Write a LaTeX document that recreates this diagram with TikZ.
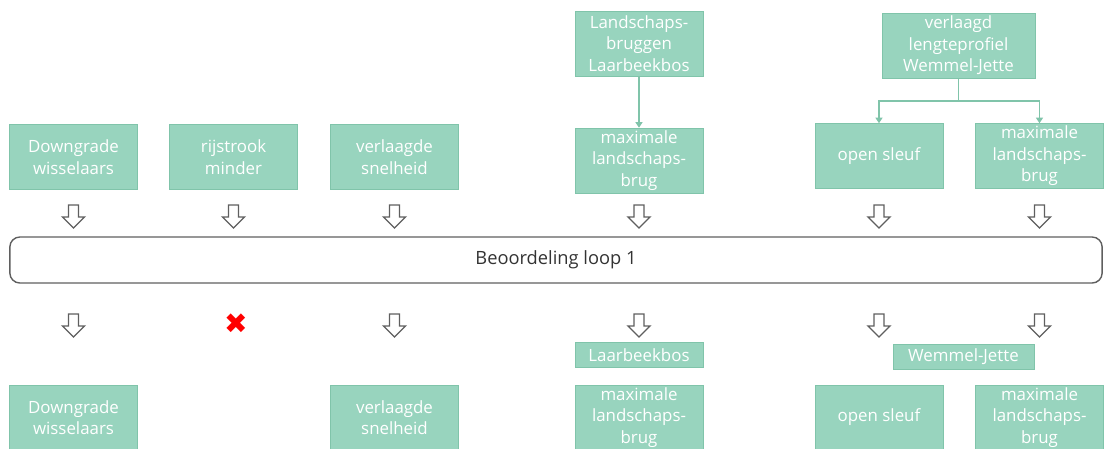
\documentclass[tikz,border=0pt]{standalone}
\usepackage{fontspec}
\setmainfont{Open Sans}
\newfontfamily\symfont{DejaVu Sans}
\usepackage{tikz}
\usetikzlibrary{positioning,calc,arrows.meta}
\definecolor{mint}{RGB}{152,212,190}
\definecolor{mintline}{RGB}{128,196,170}
\definecolor{outline}{RGB}{95,95,95}

\begin{document}
\begin{tikzpicture}[
        x=0.025cm, y=-0.025cm,
        >=Stealth,
        block/.style={rectangle,draw=mintline,fill=mint,text=white,minimum width=3.2cm,minimum height=1.625cm,inner sep=1pt,align=center,font=\fontsize{12}{15.3}\selectfont},
        tag/.style={block,minimum height=0.625cm},
        link/.style={draw=mintline,line width=1.2pt,-{Triangle[width=5pt,length=4pt]}},
        loopbox/.style={rectangle,draw=outline,line width=1pt,rounded corners=0.25cm,minimum width=27.3cm,minimum height=1.15cm,text=black!80,font=\fontsize{13}{16}\selectfont},
        down/.pic={\draw[outline,line width=0.9pt,fill=white] (-5,0) -- (5,0) -- (5,12) -- (11,12) -- (0,23) -- (-11,12) -- (-5,12) -- cycle;}
    ]
        \useasboundingbox (0,0) rectangle (1104,448);

        % varianten
        \node[block] (lb) at (639,43.5) {Landschaps-\\bruggen\\Laarbeekbos};
        \node[block,minimum width=3.825cm] (wj) at (958.5,45.5) {verlaagd\\lengteprofiel\\Wemmel-Jette};

        \node[block] (dw) at (73.5,157) {Downgrade\\wisselaars};
        \node[block] (rm) at (233.5,157) {rijstrook\\minder};
        \node[block] (vs) at (394.5,157) {verlaagde\\snelheid};
        \node[block] (mm) at (639,160.5) {maximale\\landschaps-\\brug};
        \node[block] (os) at (879,156) {open sleuf};
        \node[block] (mr) at (1039.5,156) {maximale\\landschaps-\\brug};

        \coordinate (fork) at ($(wj.south)+(0,23)$);
        \draw[link] (lb) -- (mm);
        \draw[link,-] (wj) -- (fork);
        \draw[link] (fork) -| (os.north);
        \draw[link] (fork) -| (mr.north);

        % beoordeling
        \foreach \x in {73.5,233.5,394.5,639,879,1039.5}
            \pic at (\x,205) {down};
        \node[loopbox] (loop) at (556,260) {Beoordeling loop 1};
        \foreach \x in {73.5,394.5,639,879,1039.5}
            \pic at (\x,314) {down};
        \node[text=red,font=\symfont\fontsize{20}{20}\selectfont] (nogo) at (236,324) {✖};

        % resultaat
        \node[tag] (lbtag) at (639,355) {Laarbeekbos};
        \node[tag,minimum width=3.525cm] (wjtag) at (963.5,356.5) {Wemmel-Jette};

        \node[block] (dw2) at (73.5,417.5) {Downgrade\\wisselaars};
        \node[block] (vs2) at (394.5,417.5) {verlaagde\\snelheid};
        \node[block] (mm2) at (639,417.5) {maximale\\landschaps-\\brug};
        \node[block] (os2) at (879,417.5) {open sleuf};
        \node[block] (mr2) at (1039.5,417.5) {maximale\\landschaps-\\brug};
    \end{tikzpicture}
\end{document}
